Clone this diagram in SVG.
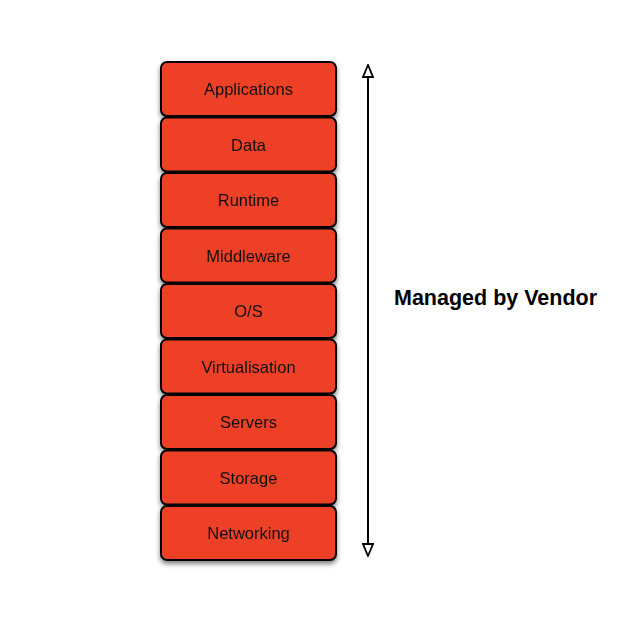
<svg xmlns="http://www.w3.org/2000/svg" width="642" height="640" viewBox="0 0 642 640">
<defs>
<style>
.box{fill:#ee4128;stroke:#000;stroke-width:2}
.lbl{font-family:"Liberation Sans",Arial,sans-serif;font-size:16.5px;fill:#111;text-anchor:middle;dominant-baseline:central}
.title{font-family:"Liberation Sans",Arial,sans-serif;font-size:21.5px;font-weight:bold;fill:#000}
</style>
<filter id="sh" x="-10%" y="-10%" width="120%" height="130%">
<feGaussianBlur in="SourceAlpha" stdDeviation="2.5"/>
<feOffset dx="0" dy="3" result="b"/>
<feComponentTransfer><feFuncA type="linear" slope="0.5"/></feComponentTransfer>
<feMerge><feMergeNode/><feMergeNode in="SourceGraphic"/></feMerge>
</filter>
<marker id="ah" viewBox="0 0 14 12" refX="13" refY="6" markerWidth="14" markerHeight="12" markerUnits="userSpaceOnUse" orient="auto-start-reverse">
<path d="M13,6 L1,1 L1,11 Z" fill="#fff" stroke="#000" stroke-width="1.8"/>
</marker>
</defs>
<rect width="642" height="640" fill="#fff"/>
<g filter="url(#sh)">
<g id="applications"><rect class="box" x="161" y="62" width="175" height="54" rx="6"/><text class="lbl" x="248.5" y="89">Applications</text></g>
<g id="data"><rect class="box" x="161" y="117.5" width="175" height="54" rx="6"/><text class="lbl" x="248.5" y="144.5">Data</text></g>
<g id="runtime"><rect class="box" x="161" y="173" width="175" height="54" rx="6"/><text class="lbl" x="248.5" y="200">Runtime</text></g>
<g id="middleware"><rect class="box" x="161" y="228.5" width="175" height="54" rx="6"/><text class="lbl" x="248.5" y="255.5">Middleware</text></g>
<g id="os"><rect class="box" x="161" y="284" width="175" height="54" rx="6"/><text class="lbl" x="248.5" y="311">O/S</text></g>
<g id="virtualisation"><rect class="box" x="161" y="339.5" width="175" height="54" rx="6"/><text class="lbl" x="248.5" y="366.5">Virtualisation</text></g>
<g id="servers"><rect class="box" x="161" y="395" width="175" height="54" rx="6"/><text class="lbl" x="248.5" y="422">Servers</text></g>
<g id="storage"><rect class="box" x="161" y="450.5" width="175" height="54" rx="6"/><text class="lbl" x="248.5" y="477.5">Storage</text></g>
<g id="networking"><rect class="box" x="161" y="506" width="175" height="54" rx="6"/><text class="lbl" x="248.5" y="533">Networking</text></g>
</g>
<g id="connectors">
<line x1="368" y1="65" x2="368" y2="556" stroke="#000" stroke-width="2" marker-start="url(#ah)" marker-end="url(#ah)"/>
</g>
<g id="label"><text class="title" x="394" y="305">Managed by Vendor</text></g>
</svg>
